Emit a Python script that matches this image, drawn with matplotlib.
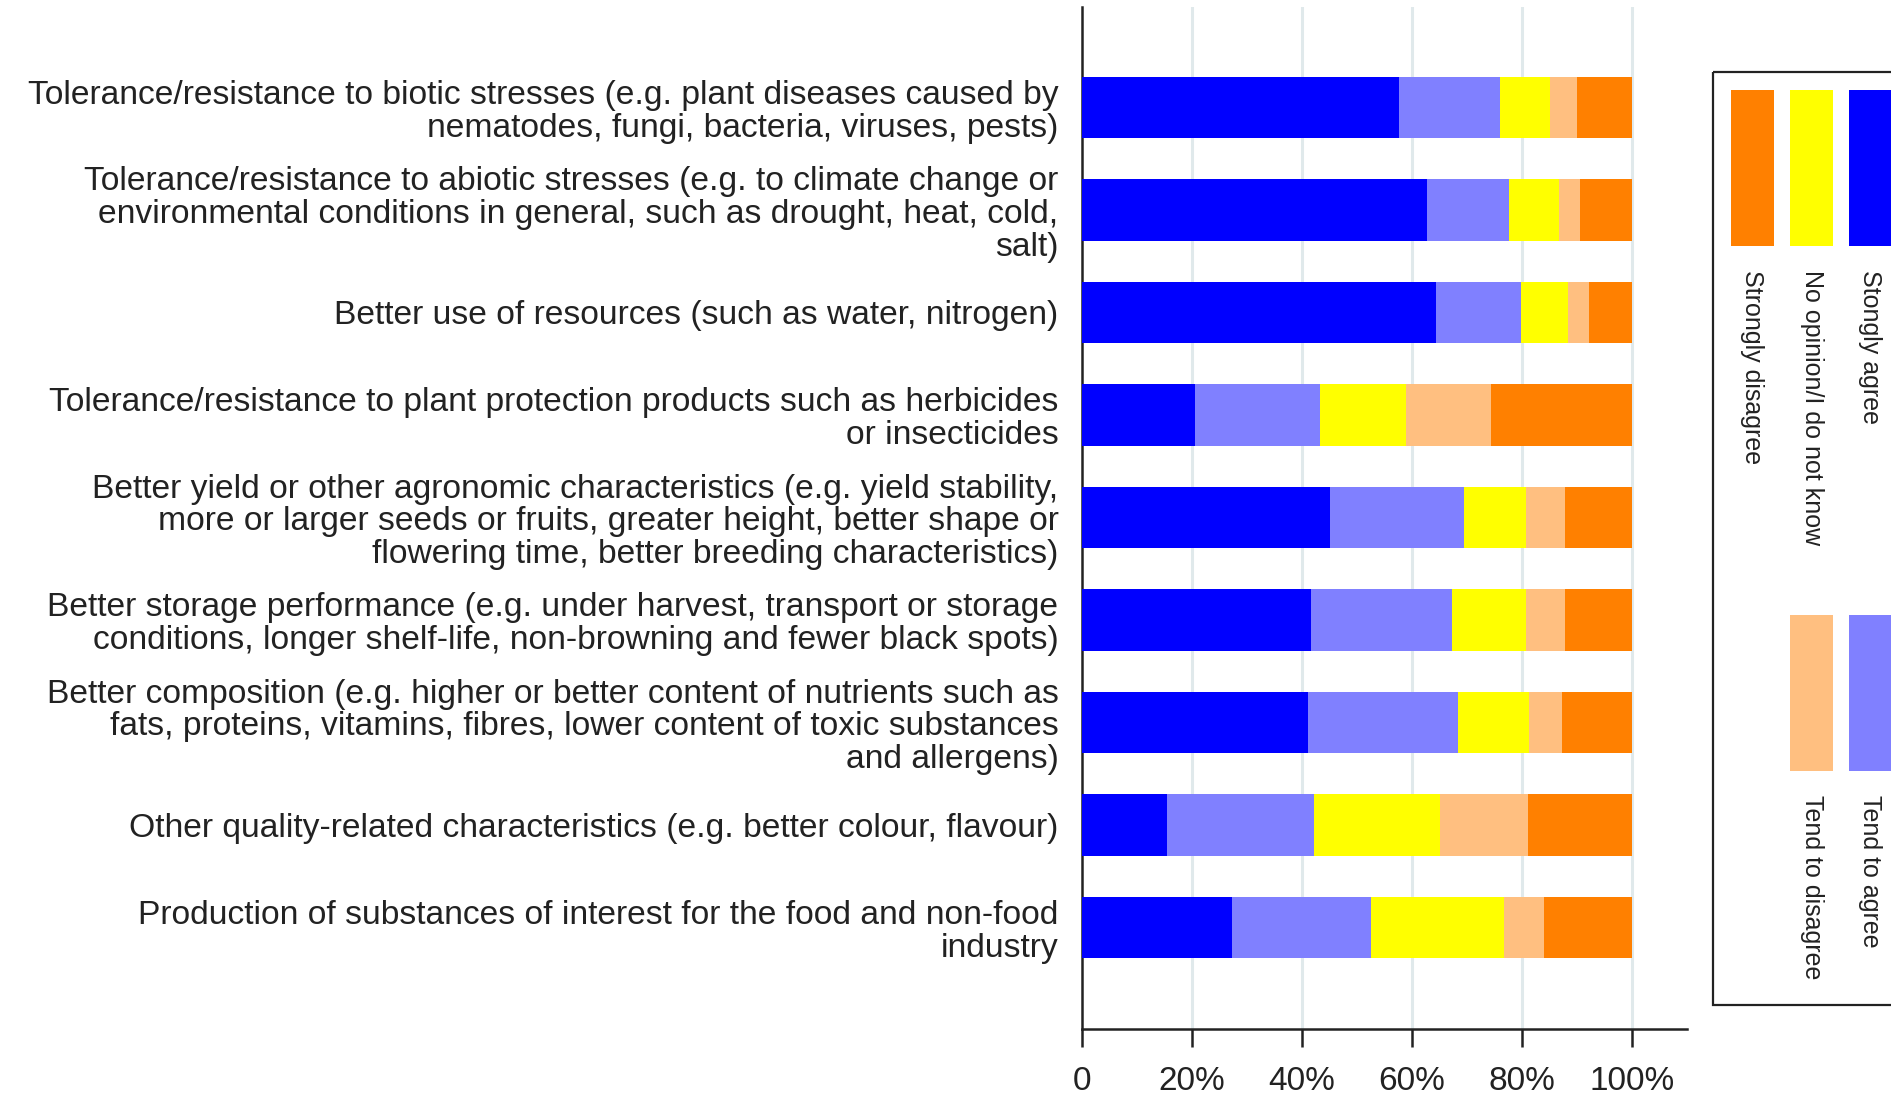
import matplotlib
matplotlib.use("Agg")
import matplotlib.pyplot as plt
from matplotlib.patches import Rectangle
import numpy as np

categories = [
    "Tolerance/resistance to biotic stresses (e.g. plant diseases caused by\nnematodes, fungi, bacteria, viruses, pests)",
    "Tolerance/resistance to abiotic stresses (e.g. to climate change or\nenvironmental conditions in general, such as drought, heat, cold,\nsalt)",
    "Better use of resources (such as water, nitrogen)",
    "Tolerance/resistance to plant protection products such as herbicides\nor insecticides",
    "Better yield or other agronomic characteristics (e.g. yield stability,\nmore or larger seeds or fruits, greater height, better shape or\nflowering time, better breeding characteristics)",
    "Better storage performance (e.g. under harvest, transport or storage\nconditions, longer shelf-life, non-browning and fewer black spots)",
    "Better composition (e.g. higher or better content of nutrients such as\nfats, proteins, vitamins, fibres, lower content of toxic substances\nand allergens)",
    "Other quality-related characteristics (e.g. better colour, flavour)",
    "Production of substances of interest for the food and non-food\nindustry",
]

strongly_agree    = [57.7, 62.7, 64.4, 20.5, 45.0, 41.6, 41.0, 15.4, 27.2]
tend_to_agree     = [18.3, 15.0, 15.5, 22.7, 24.4, 25.6, 27.3, 26.7, 25.4]
no_opinion        = [ 9.0,  9.0,  8.5, 15.7, 11.4, 13.6, 13.0, 23.0, 24.2]
tend_to_disagree  = [ 5.0,  3.9,  3.8, 15.5,  7.1,  7.1,  5.9, 16.0,  7.2]
strongly_disagree = [10.0,  9.4,  7.8, 25.6, 12.1, 12.1, 12.8, 18.9, 16.0]

series_names = ["Stongly agree", "Tend to agree", "No opinion/I do not know",
                "Tend to disagree", "Strongly disagree"]
series_colors = ["#0000FF", "#8080FF", "#FFFF00", "#FFBF80", "#FF8000"]

tick_values = [0, 20, 40, 60, 80, 100]
tick_labels = ["0", "20%", "40%", "60%", "80%", "100%"]

FONT = "Liberation Sans"
W, H = 1891, 1101
fig = plt.figure(figsize=(W / 100, H / 100), dpi=100)

left_px, right_px = 1082, 1687
top_px, bottom_px = 7, 1029
ax = fig.add_axes([left_px / W, 1 - bottom_px / H,
                   (right_px - left_px) / W, (bottom_px - top_px) / H])

y = np.arange(len(categories))
series = [strongly_agree, tend_to_agree, no_opinion, tend_to_disagree, strongly_disagree]
left = np.zeros(len(categories))
for vals, name, col in zip(series, series_names, series_colors):
    ax.barh(y, vals, left=left, height=0.6, color=col, label=name,
            edgecolor="none", zorder=3)
    left += np.array(vals)

ax.set_xlim(0, 110)
ax.set_ylim(8.99, -0.98)
ax.set_xticks(tick_values)
ax.set_xticklabels(tick_labels, fontsize=24, family=FONT, color="#222222")
ax.set_yticks(y)
ax.set_yticklabels(categories, fontsize=24.2, family=FONT, color="#222222",
                   linespacing=1.08)
ax.tick_params(axis="y", length=0, pad=17)
ax.tick_params(axis="x", length=13, width=1.8, color="#222222", pad=14,
               direction="out")

for v in tick_values[1:]:
    ax.axvline(v, color="#e0e9eb", lw=2.2, zorder=1)

for s in ["top", "right"]:
    ax.spines[s].set_visible(False)
for s in ["left", "bottom"]:
    ax.spines[s].set_linewidth(1.8)
    ax.spines[s].set_color("#222222")

# Rotated legend drawn in figure pixel coordinates
lg = fig.add_axes([0, 0, 1, 1], zorder=5)
lg.set_xlim(0, W)
lg.set_ylim(H, 0)
lg.axis("off")
lg.patch.set_alpha(0)
lg.add_patch(Rectangle((1713, 72), 300, 1005 - 72, fill=False,
                       edgecolor="#222222", lw=1.6))
col_x = {0: 1849, 2: 1790, 4: 1731, 1: 1849, 3: 1790}
row_y = {0: 90, 2: 90, 4: 90, 1: 615, 3: 615}
sw_w, sw_h = 43, 156
for i, (name, col) in enumerate(zip(series_names, series_colors)):
    x0, y0 = col_x[i], row_y[i]
    lg.add_patch(Rectangle((x0, y0), sw_w, sw_h, facecolor=col, edgecolor="none"))
    lg.text(x0 + sw_w / 2, y0 + sw_h + 24, name, rotation=-90,
            ha="center", va="top", fontsize=18, family=FONT, color="#222222")

fig.savefig("out.png", dpi=100)
